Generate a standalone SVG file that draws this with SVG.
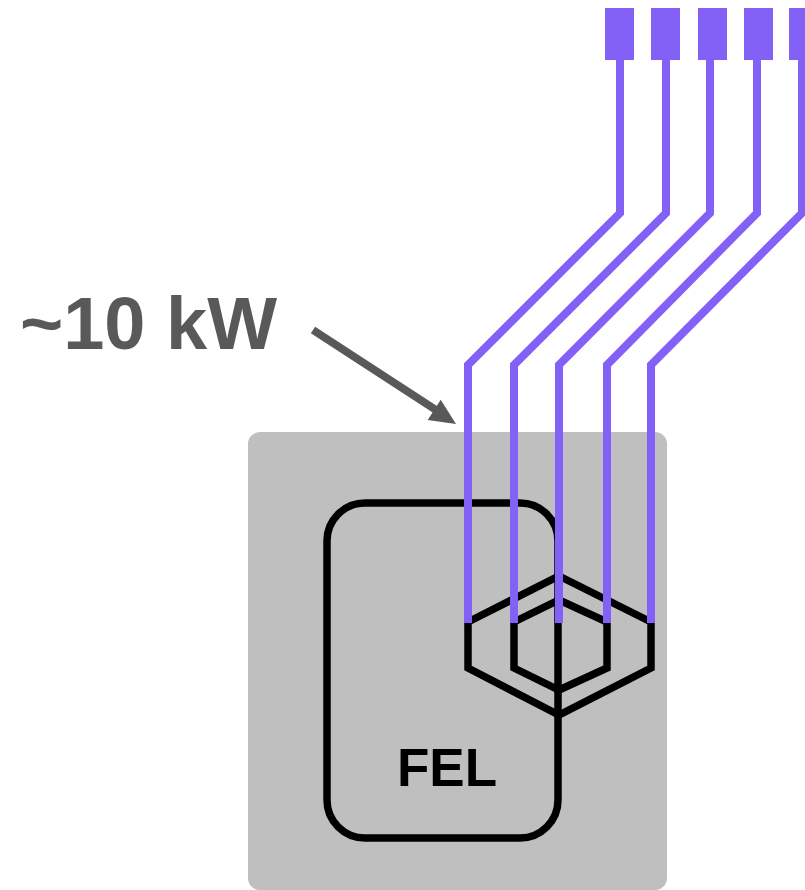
<svg xmlns="http://www.w3.org/2000/svg" width="805" height="890" viewBox="0 0 805 890">
<defs>
<style>
.purple{fill:none;stroke:#8360f6;stroke-width:8;stroke-linejoin:miter;stroke-linecap:butt}
.sq{fill:#8360f6}
.blk{fill:none;stroke:#000;stroke-width:7.5;stroke-linejoin:miter}
.lbl{font-family:"Liberation Sans",Arial,sans-serif;font-weight:bold}
</style>
</defs>
<rect width="805" height="890" fill="#fff"/>
<g id="enclosure">
<rect x="248" y="432" width="419" height="458" rx="12" fill="#bfbfbf"/>
</g>
<g id="fel">
<rect x="327" y="503" width="231" height="335" rx="38" class="blk"/>
<text x="447" y="786" class="lbl" font-size="53" text-anchor="middle" fill="#000">FEL</text>
</g>
<g id="undulator">
<polygon class="blk" points="559,576 651,622 651,668 559,715 468,668 468,622"/>
<polygon class="blk" points="559,600 607,622 607,668 559,690 514,668 514,622"/>
</g>
<g id="ports">
<rect class="sq" x="605" y="8" width="29" height="52"/>
<rect class="sq" x="651" y="8" width="29" height="52"/>
<rect class="sq" x="698" y="8" width="29" height="52"/>
<rect class="sq" x="744" y="8" width="29" height="52"/>
<rect class="sq" x="789" y="8" width="29" height="52"/>
</g>
<g id="power-label">
<text x="20" y="349" class="lbl" font-size="74" fill="#595959">~10 kW</text>
</g>
<g id="connectors">
<path class="purple" d="M620 60 V213 L468 365 V623"/>
<path class="purple" d="M666 60 V213 L514 365 V623"/>
<path class="purple" d="M710 60 V213 L559 365 V623"/>
<path class="purple" d="M757 60 V213 L607 365 V623"/>
<path class="purple" d="M802 60 V213 L651 365 V623"/>
<line x1="313" y1="330" x2="436" y2="410" stroke="#595959" stroke-width="8"/>
<polygon points="456,424 427.7,419.9 440.7,399.7" fill="#595959"/>
</g>
</svg>
